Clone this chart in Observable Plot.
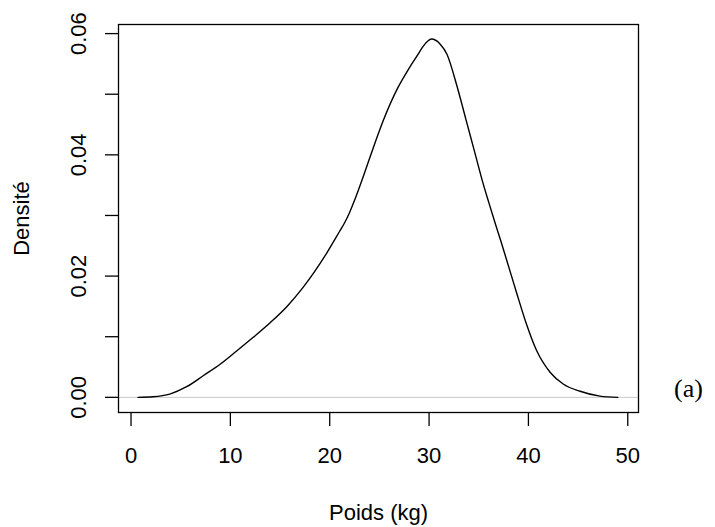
<!DOCTYPE html>
<html>
<head>
<meta charset="utf-8">
<script src="https://cdn.jsdelivr.net/npm/d3@7"></script>
<script src="https://cdn.jsdelivr.net/npm/@observablehq/plot@0.6"></script>
<style>
  html, body { margin: 0; padding: 0; background: #fff; }
  #chart { width: 715px; height: 527px; }
</style>
</head>
<body>
<div id="chart"></div>
<script>
// Kernel density estimate of weights (kg)
const poids = [0.7, 2.2, 3.9, 5.6, 7.3, 9.0, 10.6, 12.3, 14.0, 15.7, 17.3, 19.7, 21.0, 21.5, 22.0, 22.5, 23.0, 23.5, 24.2, 25.4, 26.9, 28.0, 28.9, 29.4, 30.25, 31.1, 31.8, 32.8, 33.7, 34.6, 35.4, 36.0, 36.6, 37.2, 37.8, 38.8, 39.8, 40.8, 42.2, 43.5, 45.2, 47.2, 49.0];
const densite = [0.0000, 0.0001, 0.00054, 0.00175, 0.0036, 0.0055, 0.0076, 0.0099, 0.0123, 0.0150, 0.0181, 0.0238, 0.0274, 0.0288, 0.0305, 0.0325, 0.0347, 0.0370, 0.0403, 0.0457, 0.0512, 0.0543, 0.0566, 0.0579, 0.0591, 0.0583, 0.0566, 0.0514, 0.0459, 0.0404, 0.0355, 0.0322, 0.0290, 0.0259, 0.0227, 0.0173, 0.0121, 0.0078, 0.0041, 0.0022, 0.0010, 0.0002, 0.0000];

const xTicks = [0, 10, 20, 30, 40, 50];
const yTicks = [0, 0.01, 0.02, 0.03, 0.04, 0.05, 0.06];
const xLabel = "Poids (kg)";
const yLabel = "Densité";
const panelTag = "(a)";

const data = poids.map((x, i) => ({x, y: densite[i]}));

const chart = Plot.plot({
  width: 715,
  height: 527,
  marginLeft: 118,
  marginRight: 77,
  marginTop: 24,
  marginBottom: 115,
  style: {fontFamily: "'Liberation Sans', Arial, sans-serif", fontSize: "22px", color: "#000", background: "#fff"},
  x: {domain: [-1.26, 51.08]},
  y: {domain: [-0.0025, 0.0615]},
  marks: [
    Plot.ruleY([0], {stroke: "#c8c8c8", strokeWidth: 1}),
    Plot.line(data, {x: "x", y: "y", stroke: "#000", strokeWidth: 1.4, curve: "monotone-x"}),
    Plot.frame({stroke: "#000", strokeWidth: 1.3}),
    Plot.axisX({
      ticks: xTicks, tickSize: 14, tickPadding: 21, strokeWidth: 1.3,
      tickFormat: d => String(d),
      label: xLabel, labelAnchor: "center", labelOffset: 107, labelArrow: "none"
    }),
    Plot.axisY({
      ticks: yTicks, tickSize: 13, tickPadding: 19.5, tickRotate: -90, strokeWidth: 1.3,
      tickFormat: d => (Math.round(d * 100) % 2 ? "" : d.toFixed(2)),
      label: yLabel, labelAnchor: "center", labelOffset: 105, labelArrow: "none"
    }),
    Plot.text([panelTag], {
      text: d => d, frameAnchor: "bottom-right", dx: 50, dy: -15.5,
      textAnchor: "middle", lineAnchor: "bottom",
      fontFamily: "'Liberation Serif', 'Times New Roman', serif", fontSize: 26, fill: "#000"
    })
  ]
});
document.getElementById("chart").appendChild(chart);
</script>
</body>
</html>
